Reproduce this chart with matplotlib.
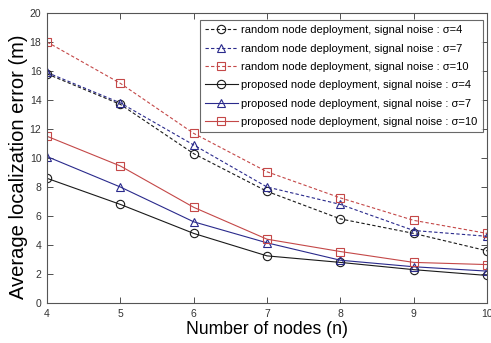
import matplotlib
matplotlib.use("Agg")
import matplotlib.pyplot as plt

plt.rcParams['font.family'] = ['Liberation Sans', 'DejaVu Sans']

nodes = [4, 5, 6, 7, 8, 9, 10]

rand_s4 = [15.8, 13.7, 10.3, 7.7, 5.8, 4.8, 3.6]
rand_s7 = [15.9, 13.8, 10.9, 8.0, 6.8, 5.0, 4.6]
rand_s10 = [18.0, 15.15, 11.7, 9.05, 7.25, 5.7, 4.8]
prop_s4 = [8.6, 6.8, 4.8, 3.25, 2.8, 2.3, 1.9]
prop_s7 = [10.1, 8.0, 5.6, 4.15, 2.95, 2.5, 2.2]
prop_s10 = [11.5, 9.45, 6.6, 4.4, 3.55, 2.8, 2.65]

labels = [
    'random node deployment, signal noise : σ=4',
    'random node deployment, signal noise : σ=7',
    'random node deployment, signal noise : σ=10',
    'proposed node deployment, signal noise : σ=4',
    'proposed node deployment, signal noise : σ=7',
    'proposed node deployment, signal noise : σ=10',
]

black = '#1a1a1a'
blue = '#2a2a8c'
red = '#c44848'

fig = plt.figure(figsize=(4.91, 3.43), dpi=100)
ax = fig.add_axes([47/491, 40/343, 440/491, 290/343])

series = [
    (rand_s4, black, 'o', (0, (3, 2))),
    (rand_s7, blue, '^', (0, (3, 2))),
    (rand_s10, red, 's', (0, (3, 2))),
    (prop_s4, black, 'o', '-'),
    (prop_s7, blue, '^', '-'),
    (prop_s10, red, 's', '-'),
]
for (vals, col, mk, ls), lab in zip(series, labels):
    ax.plot(nodes, vals, color=col, linestyle=ls, linewidth=0.8,
            marker=mk, markersize=6, markerfacecolor='none',
            markeredgecolor=col, markeredgewidth=0.8, label=lab)

ax.set_xlim(4, 10)
ax.set_ylim(0, 20)
ax.set_xticks(nodes)
ax.set_yticks(range(0, 21, 2))
ax.tick_params(direction='in', top=True, right=True, labelsize=7.5,
               length=4, width=0.6, colors='#333333', pad=4)
for sp in ax.spines.values():
    sp.set_color('#555555')
    sp.set_linewidth(0.8)

ax.set_xlabel('Number of nodes (n)', fontsize=12.7, labelpad=2)
ax.set_ylabel('Average localization error (m)', fontsize=14.5)
ax.yaxis.set_label_coords(-0.043, 0.47)

leg = ax.legend(loc='upper right', bbox_to_anchor=(0.99, 0.975), fontsize=8,
                frameon=True, fancybox=False, edgecolor='#444444',
                handlelength=3.0, handletextpad=0.3, labelspacing=0.75,
                borderpad=0.45, borderaxespad=0.0)
leg.get_frame().set_linewidth(0.8)

fig.savefig('out.png', dpi=100)
